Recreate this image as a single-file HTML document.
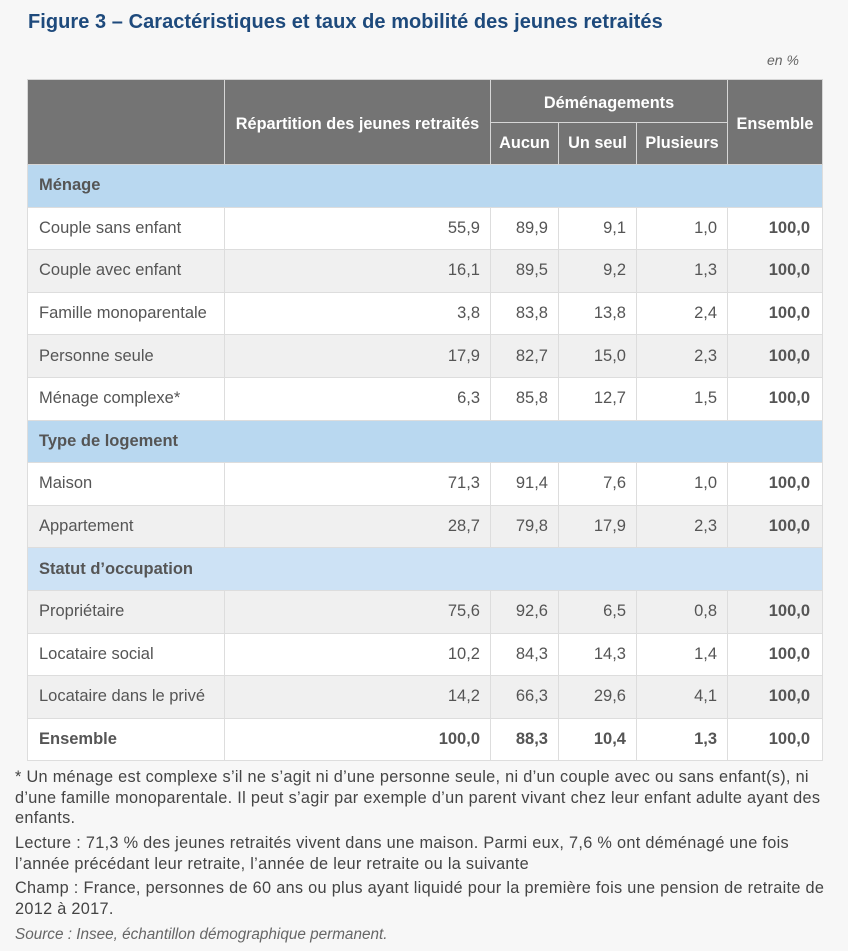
<!DOCTYPE html>
<html><head><meta charset="utf-8">
<style>
html,body{margin:0;padding:0;}
body{width:848px;height:951px;background:#f7f7f7;position:relative;overflow:hidden;font-family:"Liberation Sans",sans-serif;color:#555;}
.title{position:absolute;left:28px;top:8px;font-size:20px;font-weight:bold;color:#1e4a7c;white-space:nowrap;line-height:28px;letter-spacing:0.05px;}
.unit{position:absolute;left:767px;top:50px;font-size:14px;font-style:italic;color:#666;line-height:20px;}
table{position:absolute;left:27px;top:79px;width:795px;border-collapse:collapse;table-layout:fixed;font-size:16.5px;}
td,th{border:1px solid #ddd;padding:0;overflow:hidden;white-space:nowrap;}
th{background:#747474;color:#fff;font-weight:bold;font-size:16.3px;border-color:#d6d6d6;}
th span{position:relative;top:2px;}
tr.h1 th{height:42px;}
tr.h2 th{height:41px;}
td{height:41.6px;}
td.l{padding-left:11px;text-align:left;}
td.n{text-align:right;padding-right:10px;}
td.b{font-weight:bold;padding-right:12px;}
tr.w td{background:#fff;}
tr.g td{background:#f0f0f0;}
tr.s td{background:#b9d8f0;font-weight:bold;padding-left:11px;}
tr.s2 td{background:#cde2f5;font-weight:bold;padding-left:11px;}
tr.e td{font-weight:bold;background:#fff;}
.fn{position:absolute;left:15px;font-size:16.3px;line-height:20.5px;color:#444;white-space:nowrap;letter-spacing:0.3px;}
</style></head><body>
<div class="title">Figure 3 – Caractéristiques et taux de mobilité des jeunes retraités</div>
<div class="unit">en %</div>
<table>
<colgroup><col style="width:197px"><col style="width:266px"><col style="width:68px"><col style="width:78px"><col style="width:91px"><col style="width:95px"></colgroup>
<tr class="h1"><th rowspan="2"></th><th rowspan="2"><span>Répartition des jeunes retraités</span></th><th colspan="3"><span>Déménagements</span></th><th rowspan="2"><span>Ensemble</span></th></tr>
<tr class="h2"><th>Aucun</th><th>Un seul</th><th>Plusieurs</th></tr>
<tr class="s"><td colspan="6">Ménage</td></tr>
<tr class="w"><td class="l">Couple sans enfant</td><td class="n">55,9</td><td class="n">89,9</td><td class="n">9,1</td><td class="n">1,0</td><td class="n b">100,0</td></tr>
<tr class="g"><td class="l">Couple avec enfant</td><td class="n">16,1</td><td class="n">89,5</td><td class="n">9,2</td><td class="n">1,3</td><td class="n b">100,0</td></tr>
<tr class="w"><td class="l">Famille monoparentale</td><td class="n">3,8</td><td class="n">83,8</td><td class="n">13,8</td><td class="n">2,4</td><td class="n b">100,0</td></tr>
<tr class="g"><td class="l">Personne seule</td><td class="n">17,9</td><td class="n">82,7</td><td class="n">15,0</td><td class="n">2,3</td><td class="n b">100,0</td></tr>
<tr class="w"><td class="l">Ménage complexe*</td><td class="n">6,3</td><td class="n">85,8</td><td class="n">12,7</td><td class="n">1,5</td><td class="n b">100,0</td></tr>
<tr class="s"><td colspan="6">Type de logement</td></tr>
<tr class="w"><td class="l">Maison</td><td class="n">71,3</td><td class="n">91,4</td><td class="n">7,6</td><td class="n">1,0</td><td class="n b">100,0</td></tr>
<tr class="g"><td class="l">Appartement</td><td class="n">28,7</td><td class="n">79,8</td><td class="n">17,9</td><td class="n">2,3</td><td class="n b">100,0</td></tr>
<tr class="s2"><td colspan="6">Statut d’occupation</td></tr>
<tr class="g"><td class="l">Propriétaire</td><td class="n">75,6</td><td class="n">92,6</td><td class="n">6,5</td><td class="n">0,8</td><td class="n b">100,0</td></tr>
<tr class="w"><td class="l">Locataire social</td><td class="n">10,2</td><td class="n">84,3</td><td class="n">14,3</td><td class="n">1,4</td><td class="n b">100,0</td></tr>
<tr class="g"><td class="l">Locataire dans le privé</td><td class="n">14,2</td><td class="n">66,3</td><td class="n">29,6</td><td class="n">4,1</td><td class="n b">100,0</td></tr>
<tr class="e"><td class="l">Ensemble</td><td class="n">100,0</td><td class="n">88,3</td><td class="n">10,4</td><td class="n">1,3</td><td class="n b">100,0</td></tr>
</table>
<div class="fn" style="top:767px">* Un ménage est complexe s’il ne s’agit ni d’une personne seule, ni d’un couple avec ou sans enfant(s), ni<br>d’une famille monoparentale. Il peut s’agir par exemple d’un parent vivant chez leur enfant adulte ayant des<br>enfants.</div>
<div class="fn" style="top:833px">Lecture : 71,3 % des jeunes retraités vivent dans une maison. Parmi eux, 7,6 % ont déménagé une fois<br>l’année précédant leur retraite, l’année de leur retraite ou la suivante</div>
<div class="fn" style="top:878px">Champ : France, personnes de 60 ans ou plus ayant liquidé pour la première fois une pension de retraite de<br>2012 à 2017.</div>
<div class="fn" style="top:925px;font-style:italic;color:#666;font-size:15.3px;letter-spacing:0;">Source : Insee, échantillon démographique permanent.</div>
</body></html>
